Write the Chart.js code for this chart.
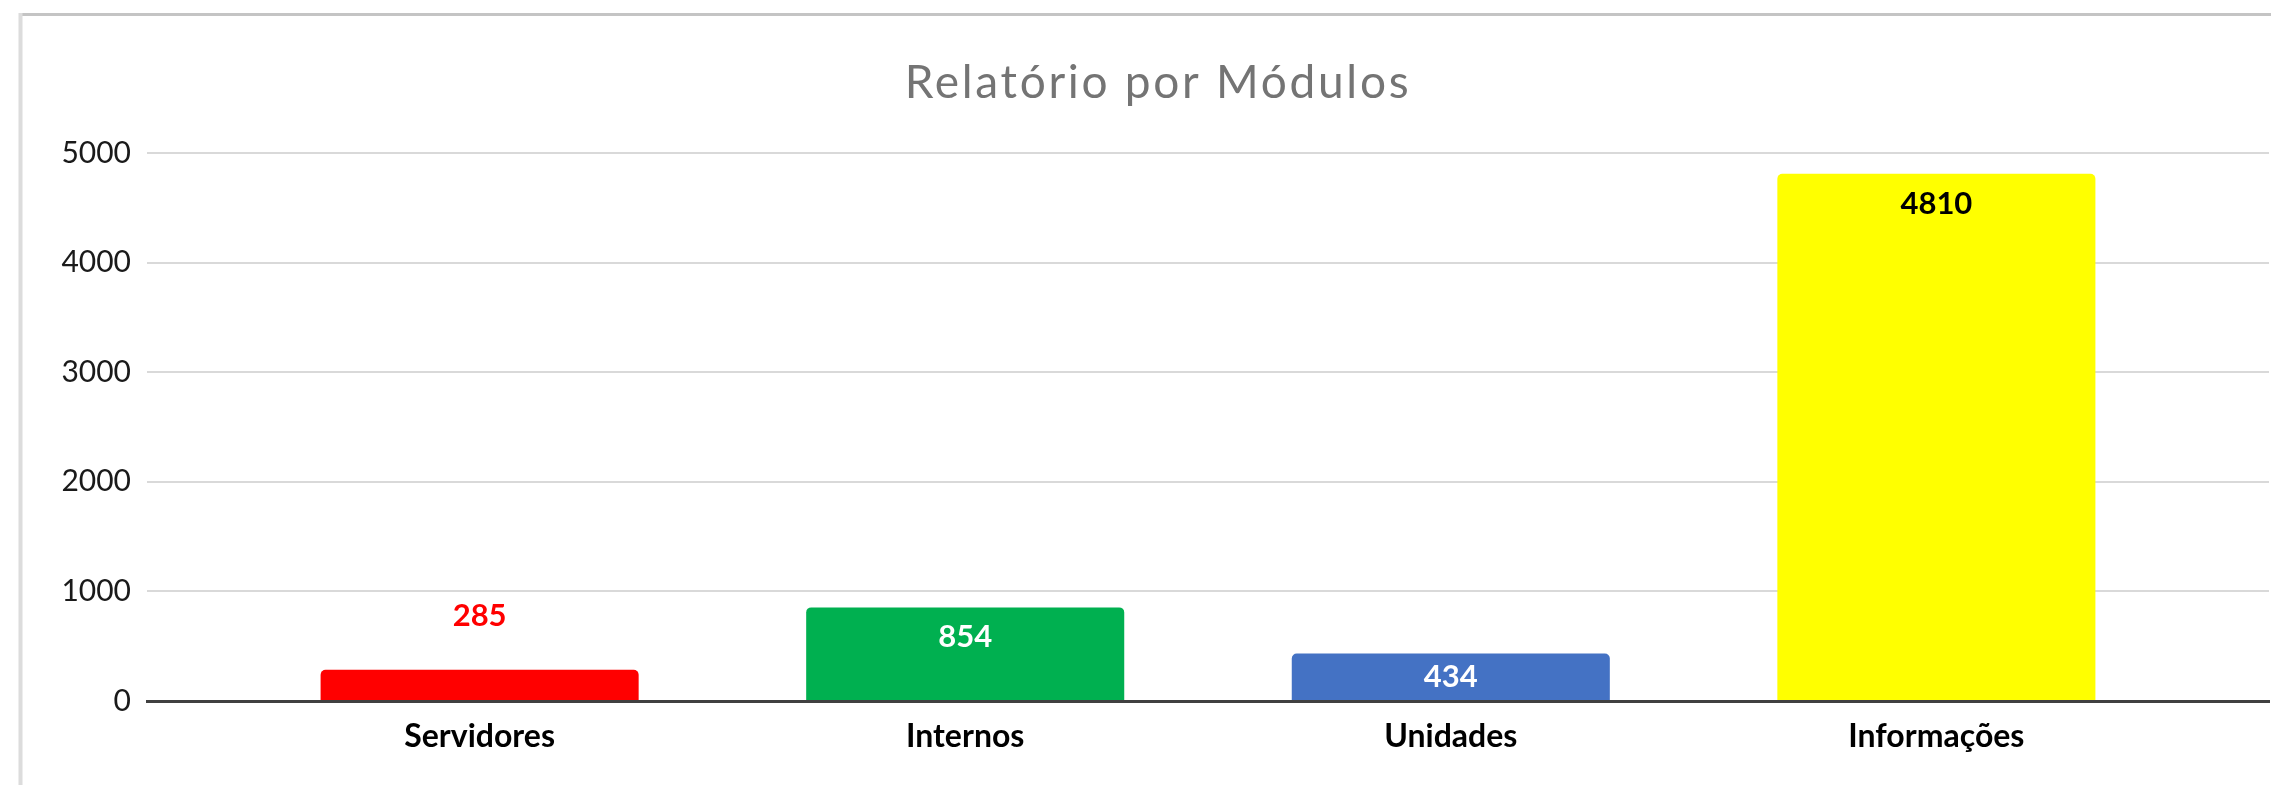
<!DOCTYPE html>
<html><head><meta charset="utf-8">
<script src="https://cdn.jsdelivr.net/npm/chart.js@4"></script>
<style>html,body{margin:0;padding:0;background:#fff;overflow:hidden}canvas{display:block}</style>
</head><body>
<canvas id="c" width="2271" height="785"></canvas>
<script>
const categories = ['Servidores', 'Internos', 'Unidades', 'Informações'];
const values = [285, 854, 434, 4810];
const barColors = ['#FF0000', '#00B050', '#4472C4', '#FFFF00'];
const labelColors = ['#FF0000', '#FFFFFF', '#FFFFFF', '#000000'];
const labelInside = [false, true, true, true];
const yTickValues = [0, 1000, 2000, 3000, 4000, 5000];
const titleText = 'Relatório por Módulos';

const framePlugin = {
  id: 'frame',
  beforeDraw(chart) {
    const ctx = chart.ctx;
    ctx.save();
    ctx.fillStyle = '#ffffff';
    ctx.fillRect(0, 0, chart.width, chart.height);
    ctx.lineWidth = 3;
    ctx.strokeStyle = '#c4c4c4';
    ctx.beginPath();
    ctx.moveTo(19, 14.5);
    ctx.lineTo(chart.width + 10, 14.5);
    ctx.stroke();
    ctx.strokeStyle = '#dcdcdc';
    ctx.lineWidth = 4;
    ctx.beginPath();
    ctx.moveTo(20.5, 13);
    ctx.lineTo(20.5, chart.height + 10);
    ctx.stroke();
    // chart title
    ctx.fillStyle = '#747474';
    ctx.font = 'normal 46px Lato';
    if ('letterSpacing' in ctx) ctx.letterSpacing = '2.7px';
    ctx.textAlign = 'center';
    ctx.textBaseline = 'middle';
    ctx.fillText(titleText, 1158, 83);
    ctx.restore();
  }
};

const valueLabelPlugin = {
  id: 'valueLabels',
  afterDatasetsDraw(chart) {
    const ctx = chart.ctx;
    const meta = chart.getDatasetMeta(0);
    ctx.save();
    ctx.font = 'bold 31px Lato';
    ctx.textAlign = 'center';
    ctx.textBaseline = 'middle';
    meta.data.forEach((bar, i) => {
      const p = bar.getProps(['x', 'y', 'base'], true);
      const ly = labelInside[i] ? p.y + Math.min(30, (p.base - p.y) / 2) : p.y - 54;
      ctx.fillStyle = labelColors[i];
      ctx.fillText(String(values[i]), p.x, ly);
    });
    ctx.restore();
  }
};

new Chart(document.getElementById('c'), {
  type: 'bar',
  data: {
    datasets: [{
      data: values.map((v, i) => ({ x: i, y: v })),
      backgroundColor: barColors,
      borderWidth: 0,
      borderRadius: { topLeft: 5, topRight: 5, bottomLeft: 0, bottomRight: 0 },
      borderSkipped: 'bottom',
      barPercentage: 0.655,
      categoryPercentage: 1
    }]
  },
  options: {
    responsive: false,
    animation: false,
    devicePixelRatio: 1,
    layout: { padding: { left: 0, right: 2, top: 153, bottom: 0 } },
    plugins: {
      legend: { display: false },
      tooltip: { enabled: false },
      title: { display: false }
    },
    scales: {
      x: {
        type: 'linear',
        offset: false,
        min: -0.685,
        max: 3.685,
        afterBuildTicks(scale) { scale.ticks = categories.map((c, i) => ({ value: i })); },
        afterFit(scale) { scale.height = 84; },
        grid: { display: false, drawTicks: false },
        border: { display: true, color: '#404040', width: 3 },
        ticks: {
          autoSkip: false,
          maxRotation: 0,
          padding: 16,
          color: '#000000',
          font: { family: 'Lato', size: 32, weight: 'bold', lineHeight: 1.2 },
          callback: (v) => categories[v]
        }
      },
      y: {
        min: 0,
        max: 5000,
        afterBuildTicks(scale) { scale.ticks = yTickValues.map(v => ({ value: v })); },
        afterFit(scale) { scale.width = 147; },
        grid: {
          drawTicks: false,
          lineWidth: 2,
          color: (c) => (c.tick && c.tick.value === 0) ? 'rgba(0,0,0,0)' : '#d9d9d9'
        },
        border: { display: false },
        ticks: {
          padding: 16,
          color: '#1a1a1a',
          font: { family: 'Lato', size: 30, lineHeight: 1.2 },
          callback: (v) => String(v)
        }
      }
    }
  },
  plugins: [framePlugin, valueLabelPlugin]
});
</script>
</body></html>
